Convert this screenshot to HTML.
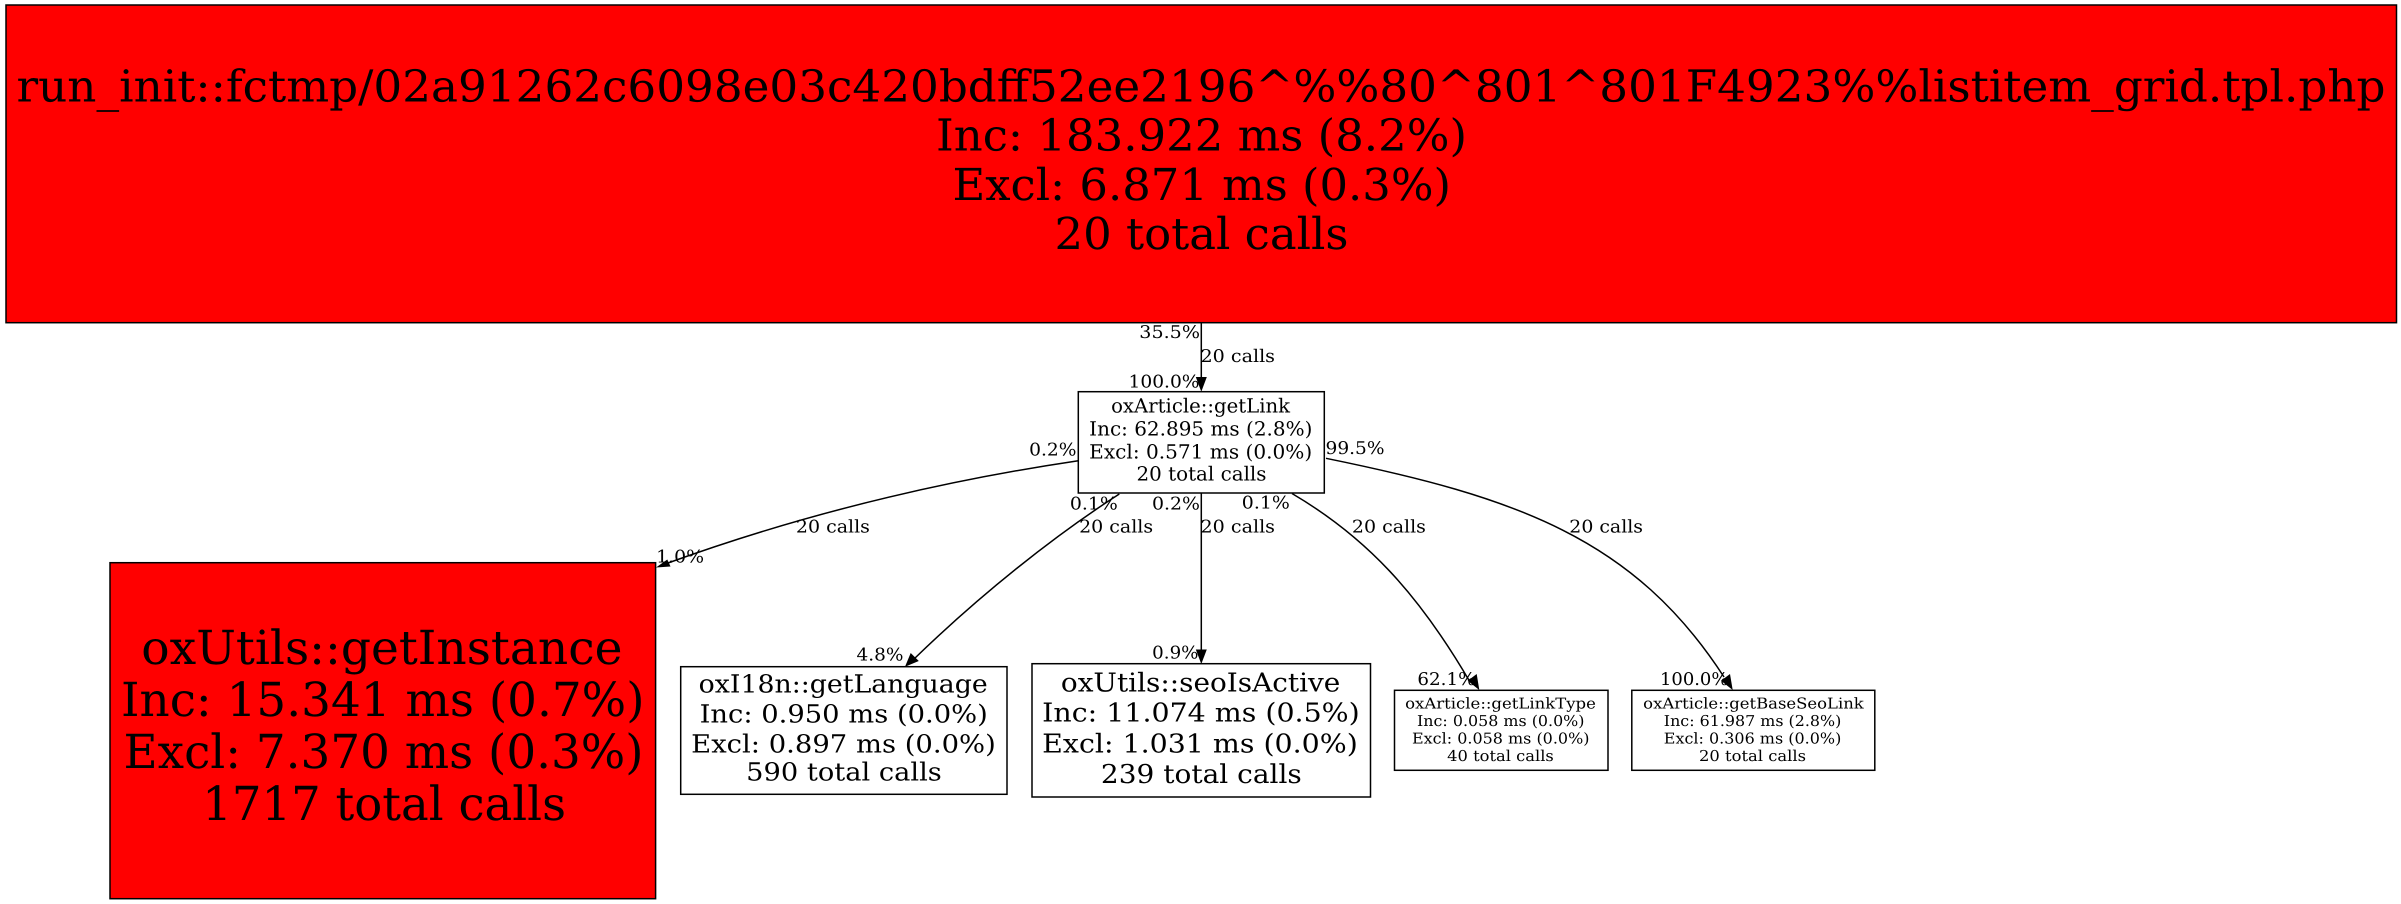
<!DOCTYPE html>
<html><head><meta charset="utf-8"><style>
html,body{margin:0;padding:0;background:#fff;width:2401px;height:904px;overflow:hidden}
svg{display:block}
text{font-family:"DejaVu Serif","Liberation Serif",serif;fill:#000;text-rendering:geometricPrecision}
.b{fill:#fff;stroke:#000;stroke-width:1.5}
.r{fill:#f00;stroke:#000;stroke-width:1.5}
.e{fill:none;stroke:#000;stroke-width:1.5}
.l{font-size:17.5px}
</style></head><body>
<svg width="2401" height="904" viewBox="0 0 2401 904" xmlns="http://www.w3.org/2000/svg">
<rect x="0" y="0" width="2401" height="904" fill="#fff"/>
<rect class="r" x="6" y="5" width="2390.5" height="317.7"/>
<rect class="b" x="1078.3" y="391.7" width="246" height="101.3"/>
<rect class="r" x="110" y="562.7" width="545.6" height="336"/>
<rect class="b" x="680.7" y="666.7" width="326.3" height="127.6"/>
<rect class="b" x="1032" y="663.7" width="338.5" height="133.3"/>
<rect class="b" x="1394.5" y="690.3" width="213.5" height="80"/>
<rect class="b" x="1631.8" y="690.3" width="243" height="80"/>

<path class="e" d="M1201.3 323V380"/><polygon points="1201.3,391.7 1195.8,377 1206.8,377"/>
<path class="e" d="M1078.3 460.7C942 481 806 513 668 563"/><polygon points="656,567.5 667.3,559.5 670.5,566.5"/>
<path class="e" d="M1119.3 494C1054 536 980 595 914 659"/><polygon points="905,666.7 910.7,653 918.8,661"/>
<path class="e" d="M1201.3 493V652"/><polygon points="1201.3,664 1195.8,649.5 1206.8,649.5"/>
<path class="e" d="M1292 493.5C1366 537 1418 593 1470 682"/><polygon points="1479.3,690 1467.7,680.7 1476.7,674"/>
<path class="e" d="M1326 458.3C1516 497 1634 538 1724 677"/><polygon points="1732.7,690 1721,680.7 1730,674"/>

<g font-size="44">
<text x="16.5" y="101.7" textLength="2369" lengthAdjust="spacingAndGlyphs">run_init::fctmp/02a91262c6098e03c420bdff52ee2196^%%80^801^801F4923%%listitem_grid.tpl.php</text>
<text x="936" y="150.7" textLength="531" lengthAdjust="spacingAndGlyphs">Inc: 183.922 ms (8.2%)</text>
<text x="952.5" y="200" textLength="498.5" lengthAdjust="spacingAndGlyphs">Excl: 6.871 ms (0.3%)</text>
<text x="1054.5" y="249" textLength="294" lengthAdjust="spacingAndGlyphs">20 total calls</text>
</g>
<g font-size="47">
<text x="141.3" y="664" textLength="481.2" lengthAdjust="spacingAndGlyphs">oxUtils::getInstance</text>
<text x="121" y="716" textLength="523.5" lengthAdjust="spacingAndGlyphs">Inc: 15.341 ms (0.7%)</text>
<text x="123.5" y="768" textLength="520" lengthAdjust="spacingAndGlyphs">Excl: 7.370 ms (0.3%)</text>
<text x="202.2" y="820" textLength="363.8" lengthAdjust="spacingAndGlyphs">1717 total calls</text>
</g>
<g font-size="19.5">
<text x="1111.1" y="412.7" textLength="179" lengthAdjust="spacingAndGlyphs">oxArticle::getLink</text>
<text x="1089.2" y="435.7" textLength="223.2" lengthAdjust="spacingAndGlyphs">Inc: 62.895 ms (2.8%)</text>
<text x="1089.2" y="458.4" textLength="223" lengthAdjust="spacingAndGlyphs">Excl: 0.571 ms (0.0%)</text>
<text x="1136.5" y="480.7" textLength="130" lengthAdjust="spacingAndGlyphs">20 total calls</text>
</g>
<g font-size="25">
<text x="698.7" y="692.7" textLength="289" lengthAdjust="spacingAndGlyphs">oxI18n::getLanguage</text>
<text x="699.6" y="722.7" textLength="288.2" lengthAdjust="spacingAndGlyphs">Inc: 0.950 ms (0.0%)</text>
<text x="691.2" y="752.3" textLength="304.6" lengthAdjust="spacingAndGlyphs">Excl: 0.897 ms (0.0%)</text>
<text x="746.2" y="780.7" textLength="195.6" lengthAdjust="spacingAndGlyphs">590 total calls</text>
</g>
<g font-size="26">
<text x="1060.9" y="691.7" textLength="279.4" lengthAdjust="spacingAndGlyphs">oxUtils::seoIsActive</text>
<text x="1042.2" y="721.7" textLength="317.6" lengthAdjust="spacingAndGlyphs">Inc: 11.074 ms (0.5%)</text>
<text x="1042.2" y="752.3" textLength="315.6" lengthAdjust="spacingAndGlyphs">Excl: 1.031 ms (0.0%)</text>
<text x="1100.9" y="783" textLength="200.9" lengthAdjust="spacingAndGlyphs">239 total calls</text>
</g>
<g font-size="15">
<text x="1405.1" y="708.7" textLength="190.8" lengthAdjust="spacingAndGlyphs">oxArticle::getLinkType</text>
<text x="1417" y="726" textLength="167.5" lengthAdjust="spacingAndGlyphs">Inc: 0.058 ms (0.0%)</text>
<text x="1412" y="743.3" textLength="177.5" lengthAdjust="spacingAndGlyphs">Excl: 0.058 ms (0.0%)</text>
<text x="1447.2" y="761" textLength="106.6" lengthAdjust="spacingAndGlyphs">40 total calls</text>
<text x="1643.2" y="708.7" textLength="220.6" lengthAdjust="spacingAndGlyphs">oxArticle::getBaseSeoLink</text>
<text x="1663.8" y="726" textLength="177.5" lengthAdjust="spacingAndGlyphs">Inc: 61.987 ms (2.8%)</text>
<text x="1663.8" y="743.3" textLength="177.5" lengthAdjust="spacingAndGlyphs">Excl: 0.306 ms (0.0%)</text>
<text x="1699" y="761" textLength="107" lengthAdjust="spacingAndGlyphs">20 total calls</text>
</g>
<g class="l">
<text x="1139.3" y="338" textLength="60.7" lengthAdjust="spacingAndGlyphs">35.5%</text>
<text x="1200.5" y="362" textLength="74.5" lengthAdjust="spacingAndGlyphs">20 calls</text>
<text x="1128.5" y="387.3" textLength="71" lengthAdjust="spacingAndGlyphs">100.0%</text>
<text x="1029.1" y="455.3" textLength="47.4" lengthAdjust="spacingAndGlyphs">0.2%</text>
<text x="1325.5" y="454" textLength="59" lengthAdjust="spacingAndGlyphs">99.5%</text>
<text x="1069.9" y="509.3" textLength="47.9" lengthAdjust="spacingAndGlyphs">0.1%</text>
<text x="1152" y="509.3" textLength="48" lengthAdjust="spacingAndGlyphs">0.2%</text>
<text x="1241.8" y="508.3" textLength="48" lengthAdjust="spacingAndGlyphs">0.1%</text>
<text x="795.9" y="532.7" textLength="74" lengthAdjust="spacingAndGlyphs">20 calls</text>
<text x="1079.1" y="532.7" textLength="74" lengthAdjust="spacingAndGlyphs">20 calls</text>
<text x="1200.5" y="532.7" textLength="74.5" lengthAdjust="spacingAndGlyphs">20 calls</text>
<text x="1351.9" y="532.7" textLength="74" lengthAdjust="spacingAndGlyphs">20 calls</text>
<text x="1569.3" y="532.7" textLength="73.7" lengthAdjust="spacingAndGlyphs">20 calls</text>
<text x="656.1" y="562.7" textLength="48" lengthAdjust="spacingAndGlyphs">1.0%</text>
<text x="856.5" y="660.7" textLength="47" lengthAdjust="spacingAndGlyphs">4.8%</text>
<text x="1152.2" y="658.7" textLength="46.3" lengthAdjust="spacingAndGlyphs">0.9%</text>
<text x="1417.4" y="685" textLength="58.1" lengthAdjust="spacingAndGlyphs">62.1%</text>
<text x="1660" y="685" textLength="68.4" lengthAdjust="spacingAndGlyphs">100.0%</text>
</g>
</svg>
</body></html>
